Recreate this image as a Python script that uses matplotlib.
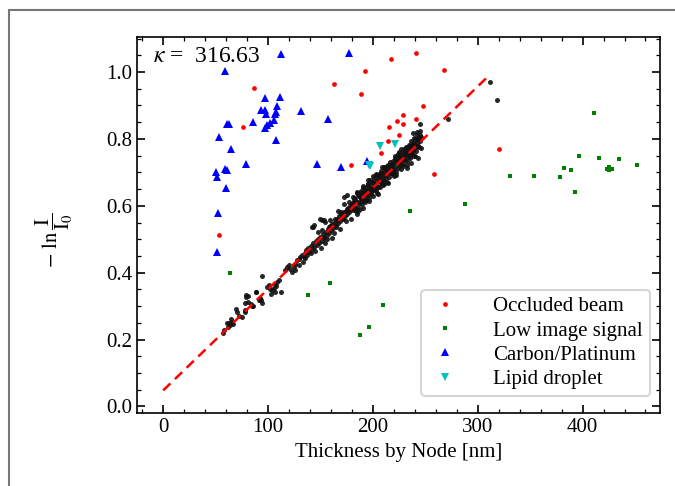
import matplotlib
matplotlib.use("Agg")
import matplotlib.pyplot as plt
from matplotlib.patches import Rectangle
from matplotlib.ticker import MultipleLocator

plt.rcParams['font.family'] = ['Liberation Serif', 'DejaVu Serif']
plt.rcParams['mathtext.fontset'] = 'stix'

# good measurements (black)
good_x = [56.6, 58.0, 60.8, 61.7, 62.3, 63.9, 64.9, 65.5, 67.0, 69.7, 70.3, 72.5, 75.1, 77.6, 78.2, 78.2,
          78.9, 79.2, 80.8, 80.8, 84.0, 84.6, 85.2, 88.4, 88.7, 90.9, 91.9, 92.6, 92.8, 94.2, 94.2, 99.0,
          100.5, 102.1, 103.1, 103.7, 105.3, 106.2, 106.9, 107.8, 108.5, 110.0, 111.9, 116.4, 118.0, 119.6,
          121.2, 122.8, 124.4, 126.0, 126.0, 127.6, 129.2, 129.2, 130.7, 132.3, 132.9, 133.9,
          135, 135, 136.5, 137.5, 138.5, 139.5, 140.5, 141, 142, 143, 144, 145, 146, 147, 148, 149, 150, 151,
          152, 153, 154, 155, 156, 157, 158, 159, 160, 161, 162, 163, 164, 165, 166, 167, 168, 169, 170, 171,
          172, 172.5, 173, 174, 175, 175.3, 176, 177, 178, 179, 180,
          141.9, 143.4, 151.5, 153.0, 142.8, 147.6, 149.8, 238.5, 241.7, 244.9, 271.5, 312.0, 318.0,
          181, 191, 236, 243, 232.5, 185, 200, 205, 195, 225, 212, 220]
good_y = [0.219, 0.228, 0.248, 0.237, 0.249, 0.243, 0.262, 0.253, 0.247, 0.292, 0.283, 0.270, 0.266, 0.287, 0.281, 0.310,
          0.327, 0.332, 0.312, 0.329, 0.307, 0.300, 0.299, 0.341, 0.343, 0.317, 0.324, 0.319, 0.317, 0.309, 0.389, 0.357,
          0.362, 0.352, 0.337, 0.347, 0.355, 0.343, 0.367, 0.359, 0.372, 0.379, 0.343, 0.407, 0.417, 0.422,
          0.412, 0.402, 0.417, 0.427, 0.407, 0.437, 0.442, 0.422, 0.447, 0.452, 0.432, 0.447,
          0.460, 0.445, 0.468, 0.452, 0.475, 0.462, 0.480, 0.458, 0.470, 0.488, 0.476, 0.465, 0.495, 0.482, 0.500, 0.490, 0.508, 0.495,
          0.515, 0.505, 0.490, 0.522, 0.512, 0.530, 0.518, 0.540, 0.528, 0.545, 0.535, 0.520, 0.552, 0.542, 0.560, 0.550, 0.570, 0.556, 0.575, 0.562,
          0.580, 0.627, 0.568, 0.585, 0.575, 0.632, 0.592, 0.580, 0.600, 0.588, 0.605,
          0.537, 0.542, 0.559, 0.557, 0.538, 0.523, 0.561, 0.818, 0.821, 0.845, 0.861, 0.970, 0.916,
          0.627, 0.593, 0.727, 0.742, 0.713, 0.575, 0.690, 0.635, 0.676, 0.760, 0.715, 0.690]
# dense upper part of the cloud
dense_x = [181 + 0.5 * k for k in range(131)]
dense_y = [0.608, 0.588, 0.624, 0.597, 0.620, 0.584, 0.611, 0.637, 0.594, 0.612, 0.632, 0.605, 0.629, 0.591, 0.626,
           0.643, 0.619, 0.606, 0.634, 0.653, 0.621, 0.644, 0.618, 0.635, 0.655, 0.616, 0.648, 0.627, 0.664, 0.636,
           0.660, 0.623, 0.651, 0.676, 0.634, 0.651, 0.671, 0.644, 0.668, 0.630, 0.665, 0.682, 0.658, 0.646, 0.673,
           0.693, 0.660, 0.684, 0.657, 0.675, 0.694, 0.656, 0.687, 0.667, 0.703, 0.676, 0.699, 0.663, 0.690, 0.716,
           0.673, 0.691, 0.710, 0.684, 0.707, 0.670, 0.704, 0.722, 0.697, 0.685, 0.712, 0.732, 0.699, 0.723, 0.697,
           0.714, 0.734, 0.695, 0.727, 0.706, 0.743, 0.715, 0.739, 0.702, 0.730, 0.755, 0.713, 0.730, 0.750, 0.723,
           0.747, 0.709, 0.744, 0.761, 0.737, 0.724, 0.752, 0.771, 0.739, 0.762, 0.736, 0.753, 0.773, 0.734, 0.766,
           0.745, 0.782, 0.755, 0.778, 0.742, 0.769, 0.795, 0.752, 0.770, 0.789, 0.763, 0.786, 0.749, 0.783, 0.801,
           0.776, 0.764, 0.791, 0.811, 0.778, 0.802, 0.775, 0.793, 0.812, 0.774, 0.805]
# wider spread of the band
spread_x = [150.25 + 1.5 * k for k in range(64)]
spread_y = [0.475, 0.528, 0.506, 0.551, 0.501, 0.536, 0.557, 0.505, 0.544, 0.560, 0.537, 0.585, 0.530, 0.582, 0.561,
            0.605, 0.556, 0.591, 0.611, 0.560, 0.598, 0.615, 0.591, 0.640, 0.584, 0.637, 0.615, 0.660, 0.611, 0.645,
            0.666, 0.614, 0.653, 0.669, 0.646, 0.694, 0.639, 0.691, 0.670, 0.715, 0.665, 0.700, 0.720, 0.669, 0.707,
            0.724, 0.700, 0.749, 0.693, 0.746, 0.725, 0.769, 0.720, 0.754, 0.775, 0.723, 0.762, 0.778, 0.755, 0.803,
            0.748, 0.801, 0.779, 0.824]

occ_x = [86.5, 76.3, 52.8, 217.6, 241.4, 192.4, 267.5, 162.9, 188.6, 247.8, 228.7, 223.3, 229.0, 241.1,
         215.6, 225.2, 214.0, 207.7, 179.4, 320.3, 258.0]
occ_y = [0.953, 0.837, 0.513, 1.040, 1.057, 1.002, 1.006, 0.963, 0.933, 0.897, 0.873, 0.854, 0.846, 0.861,
         0.835, 0.811, 0.795, 0.758, 0.722, 0.770, 0.696]

low_x = [330.5, 63.9, 287.5, 235.4, 137.7, 159.4, 209.3, 196.3, 187.3, 353.4, 378.8, 382.0, 389.0, 396.7,
         392.5, 415.4, 434.5, 451.7, 423.0, 425.0, 425.0, 428.0, 411.0]
low_y = [0.689, 0.399, 0.604, 0.584, 0.332, 0.370, 0.302, 0.237, 0.215, 0.688, 0.685, 0.712, 0.707, 0.749,
         0.640, 0.744, 0.741, 0.722, 0.710, 0.716, 0.706, 0.709, 0.877]

cp_x = [112.6, 58.5, 97.3, 111.6, 93.5, 97.3, 98.0, 108.8, 107.5, 106.2, 131.7, 157.1, 85.9, 63.0, 61.1,
        105.2, 101.4, 98.9, 97.3, 53.4, 107.8, 64.9, 78.5, 147.0, 58.5, 60.8, 49.9, 51.2, 59.5, 52.5, 50.9,
        176.9, 169.8, 194.4]
cp_y = [1.053, 1.004, 0.923, 0.926, 0.886, 0.886, 0.874, 0.899, 0.881, 0.876, 0.883, 0.861, 0.851, 0.845, 0.845,
        0.858, 0.849, 0.841, 0.834, 0.806, 0.798, 0.771, 0.725, 0.725, 0.711, 0.707, 0.700, 0.686, 0.653, 0.579, 0.461,
        1.058, 0.717, 0.734]

lip_x = [206.8, 220.7, 196.0, 197.0]
lip_y = [0.780, 0.784, 0.722, 0.719]

fit_x = [0, 311]
fit_intercept = 0.048
fit_slope = 0.00303
kappa = 316.63

fig = plt.figure(figsize=(6.75, 4.86), dpi=100)
ax = fig.add_axes([0.203, 0.150, 0.775, 0.774])

for xs, ys in [(good_x, good_y), (dense_x, dense_y), (spread_x, spread_y)]:
    ax.plot(xs, ys, 'o', color='#111111', ms=3.6, mew=0, alpha=0.9)
ax.plot(fit_x, [fit_intercept + fit_slope * v for v in fit_x], color='red', lw=1.8, ls=(0, (4, 2.5)))
ax.plot(occ_x, occ_y, 'o', color='red', ms=3.4, mew=0, label='Occluded beam')
ax.plot(low_x, low_y, 's', color='green', ms=2.6, mew=0, label='Low image signal')
ax.plot(cp_x, cp_y, '^', color='blue', ms=5.4, mew=0, label='Carbon/Platinum')
ax.plot(lip_x, lip_y, 'v', color='c', ms=5.4, mew=0, label='Lipid droplet')

ax.set_xlim(-25, 474)
ax.set_ylim(-0.02, 1.105)
ax.xaxis.set_major_locator(MultipleLocator(100))
ax.xaxis.set_minor_locator(MultipleLocator(20))
ax.yaxis.set_major_locator(MultipleLocator(0.2))
ax.yaxis.set_minor_locator(MultipleLocator(0.05))
ax.tick_params(which='both', direction='in', top=True, right=True, labelsize=15)
ax.tick_params(which='major', length=6, width=1.2)
ax.tick_params(which='minor', length=3, width=0.9)
for s in ax.spines.values():
    s.set_linewidth(1.2)

ax.set_xlabel('Thickness by Node [nm]', fontsize=15)
ax.set_ylabel(r'$-\ \ln\dfrac{\mathrm{I}}{\mathrm{I_0}}$', fontsize=15)
ax.yaxis.set_label_coords(-0.119, 0.46)
ax.text(0.03, 0.975, r'$\kappa$ =  %.2f' % kappa, transform=ax.transAxes, fontsize=17, va='top')

leg = ax.legend(loc='lower right', bbox_to_anchor=(0.981, 0.045), borderaxespad=0, fontsize=15,
                handletextpad=1.5, borderpad=0.35, labelspacing=0.22, handlelength=1.6)
leg.get_frame().set_edgecolor('#cccccc')
leg.get_frame().set_linewidth(1.5)

fig.add_artist(Rectangle((9 / 675, -0.1), 1.2, 1.1 - 10 / 486, transform=fig.transFigure,
                         fill=False, edgecolor='#777777', lw=1.5))

fig.savefig('out.png', dpi=100)
